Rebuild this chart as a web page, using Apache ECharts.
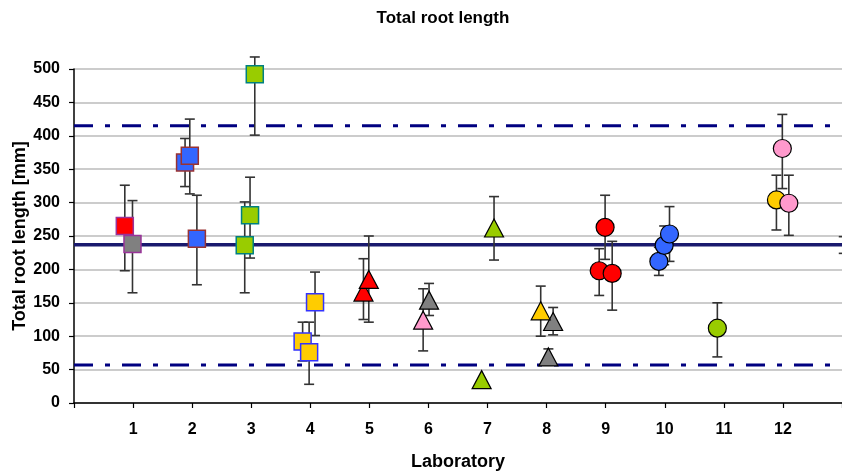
<!DOCTYPE html>
<html>
<head>
<meta charset="utf-8">
<script src="https://cdn.jsdelivr.net/npm/echarts@6/dist/echarts.min.js"></script>
<style>html,body{margin:0;padding:0;background:#fff}#c{width:842px;height:472px}</style>
</head>
<body>
<div id="c"></div>
<script>
// ---- data (x = laboratory position with small offsets, y = value, lo/hi = error bar ends) ----
const labTicks = [1,2,3,4,5,6,7,8,9,10,11,12];
const meanValue = 237;
const upperLimit = 415;
const lowerLimit = 57;

const sqRedX = [0.86],  sqRedY = [265], sqRedLo = [198], sqRedHi = [326];
const sqGrayX = [0.99], sqGrayY = [238], sqGrayLo = [165], sqGrayHi = [303];
const sqBlueX = [1.88, 1.96, 2.08], sqBlueY = [360, 370, 246], sqBlueLo = [324, 313, 177], sqBlueHi = [396, 425, 311];
const sqGreenX = [2.98, 2.89, 3.06], sqGreenY = [281, 236, 492], sqGreenLo = [217, 165, 401], sqGreenHi = [338, 301, 518];
const sqYellowX = [3.87, 3.98, 4.08], sqYellowY = [92, 76, 151], sqYellowLo = [63, 28, 101], sqYellowHi = [121, 121, 196];

const trRedX = [4.90, 4.99], trRedY = [166, 185], trRedLo = [125, 121], trRedHi = [216, 250];
const trPinkX = [5.91], trPinkY = [124], trPinkLo = [78], trPinkHi = [171];
const trGrayX = [6.01, 8.11, 8.03], trGrayY = [154, 122, 69], trGrayLo = [131, 102, 57], trGrayHi = [179, 143, 81];
const trGreenX = [7.11, 6.90], trGreenY = [262, 35], trGreenLo = [214, null], trGreenHi = [309, null];
const trYellowX = [7.90], trYellowY = [138], trYellowLo = [100], trYellowHi = [175];

const ciRedX = [8.99, 8.89, 9.11], ciRedY = [263, 198, 194], ciRedLo = [215, 161, 139], ciRedHi = [311, 231, 242];
const ciBlueX = [9.90, 9.99, 10.08], ciBlueY = [212, 236, 253], ciBlueLo = [191, 207, 212], ciBlueHi = [233, 265, 294];
const ciGreenX = [10.89], ciGreenY = [112], ciGreenLo = [69], ciGreenHi = [150];
const ciYellowX = [11.89], ciYellowY = [304], ciYellowLo = [259], ciYellowHi = [341];
const ciPinkX = [11.99, 12.10], ciPinkY = [381, 299], ciPinkLo = [321, 251], ciPinkHi = [432, 341];

const edgeX = [13.03], edgeLo = [224], edgeHi = [249];

// ---- build ----
const groups = [
  {x: sqRedX, y: sqRedY, lo: sqRedLo, hi: sqRedHi, sym: 'rect', color: '#FF0000', border: '#993399'},
  {x: sqGrayX, y: sqGrayY, lo: sqGrayLo, hi: sqGrayHi, sym: 'rect', color: '#808080', border: '#993399'},
  {x: sqBlueX, y: sqBlueY, lo: sqBlueLo, hi: sqBlueHi, sym: 'rect', color: '#3366FF', border: '#993333'},
  {x: sqGreenX, y: sqGreenY, lo: sqGreenLo, hi: sqGreenHi, sym: 'rect', color: '#99CC00', border: '#008080'},
  {x: sqYellowX, y: sqYellowY, lo: sqYellowLo, hi: sqYellowHi, sym: 'rect', color: '#FFCC00', border: '#3333FF'},
  {x: trRedX, y: trRedY, lo: trRedLo, hi: trRedHi, sym: 'triangle', color: '#FF0000', border: '#000000'},
  {x: trPinkX, y: trPinkY, lo: trPinkLo, hi: trPinkHi, sym: 'triangle', color: '#FF99CC', border: '#000000'},
  {x: trGrayX, y: trGrayY, lo: trGrayLo, hi: trGrayHi, sym: 'triangle', color: '#808080', border: '#000000'},
  {x: trGreenX, y: trGreenY, lo: trGreenLo, hi: trGreenHi, sym: 'triangle', color: '#99CC00', border: '#000000'},
  {x: trYellowX, y: trYellowY, lo: trYellowLo, hi: trYellowHi, sym: 'triangle', color: '#FFCC00', border: '#000000'},
  {x: ciRedX, y: ciRedY, lo: ciRedLo, hi: ciRedHi, sym: 'circle', color: '#FF0000', border: '#000000'},
  {x: ciBlueX, y: ciBlueY, lo: ciBlueLo, hi: ciBlueHi, sym: 'circle', color: '#3366FF', border: '#000000'},
  {x: ciGreenX, y: ciGreenY, lo: ciGreenLo, hi: ciGreenHi, sym: 'circle', color: '#99CC00', border: '#000000'},
  {x: ciYellowX, y: ciYellowY, lo: ciYellowLo, hi: ciYellowHi, sym: 'circle', color: '#FFCC00', border: '#000000'},
  {x: ciPinkX, y: ciPinkY, lo: ciPinkLo, hi: ciPinkHi, sym: 'circle', color: '#FF99CC', border: '#000000'}
];

const errData = [];
groups.forEach(g => g.x.forEach((x, i) => { if (g.lo[i] != null) errData.push([x, g.lo[i], g.hi[i]]); }));
edgeX.forEach((x, i) => errData.push([x, edgeLo[i], edgeHi[i]]));

const series = [];
series.push({
  type: 'custom', z: 2, silent: true, clip: false,
  data: errData,
  encode: {x: 0, y: [1, 2]},
  renderItem: function (params, api) {
    const x = api.value(0);
    const top = api.coord([x, api.value(2)]);
    const bot = api.coord([x, api.value(1)]);
    const hw = 5;
    const st = {stroke: '#333333', lineWidth: 1.6};
    return {type: 'group', children: [
      {type: 'line', shape: {x1: top[0], y1: top[1], x2: bot[0], y2: bot[1]}, style: st},
      {type: 'line', shape: {x1: top[0] - hw, y1: top[1], x2: top[0] + hw, y2: top[1]}, style: st},
      {type: 'line', shape: {x1: bot[0] - hw, y1: bot[1], x2: bot[0] + hw, y2: bot[1]}, style: st}
    ]};
  }
});

// reference lines
series.push({
  type: 'line', z: 1, silent: true, symbol: 'none',
  data: [[0, meanValue], [13, meanValue]],
  lineStyle: {color: '#1a1a6e', width: 3.5}
});
[upperLimit, lowerLimit].forEach(v => series.push({
  type: 'line', z: 1, silent: true, symbol: 'none',
  data: [[0, v], [13, v]],
  lineStyle: {color: '#000080', width: 3, type: [19, 12, 5, 12]}
}));

groups.forEach(g => {
  const size = g.sym === 'triangle' ? [19, 18] : (g.sym === 'rect' ? 17 : 18);
  series.push({
    type: 'scatter', z: 3,
    symbol: g.sym, symbolSize: size,
    data: g.x.map((x, i) => [x, g.y[i]]),
    itemStyle: {color: g.color, borderColor: g.border, borderWidth: g.sym === 'rect' ? 1.5 : 1.2, opacity: 1}
  });
});

const FONT = 'Liberation Sans, Arial, sans-serif';
const chart = echarts.init(document.getElementById('c'), null, {renderer: 'canvas'});
chart.setOption({
  animation: false,
  backgroundColor: '#ffffff',
  title: {
    text: 'Total root length', left: 438, top: 5, textAlign: 'center',
    textStyle: {fontFamily: FONT, fontSize: 17, fontWeight: 'bold', color: '#000'}
  },
  grid: {left: 74, right: 0, top: 69, bottom: 69, containLabel: false, outerBoundsMode: 'none'},
  xAxis: {
    type: 'value', min: 0, max: 13, interval: 1,
    name: 'Laboratory', nameLocation: 'middle', nameGap: 50, nameMoveOverlap: false,
    nameTextStyle: {fontFamily: FONT, fontSize: 18, fontWeight: 'bold', color: '#000'},
    axisLine: {onZero: false, lineStyle: {color: '#000', width: 1.5}},
    axisTick: {show: true, inside: false, length: 5, lineStyle: {color: '#000', width: 1.2}},
    axisLabel: {
      margin: 19, color: '#000', fontFamily: FONT, fontSize: 16, fontWeight: 'bold',
      formatter: v => (labTicks.indexOf(v) >= 0 ? String(v) : '')
    },
    splitLine: {show: false}
  },
  yAxis: {
    type: 'value', min: 0, max: 500, interval: 50,
    name: 'Total root length [mm]', nameLocation: 'middle', nameGap: 45, nameRotate: 90, nameMoveOverlap: false,
    nameTextStyle: {fontFamily: FONT, fontSize: 18, fontWeight: 'bold', color: '#000'},
    axisLine: {show: true, lineStyle: {color: '#000', width: 1.5}},
    axisTick: {show: true, inside: false, length: 5, lineStyle: {color: '#000', width: 1.2}},
    axisLabel: {margin: 14, color: '#000', fontFamily: FONT, fontSize: 16, fontWeight: 'bold'},
    splitLine: {show: true, lineStyle: {color: '#BBBBBB', width: 1.5}}
  },
  series: series
});
</script>
</body>
</html>
